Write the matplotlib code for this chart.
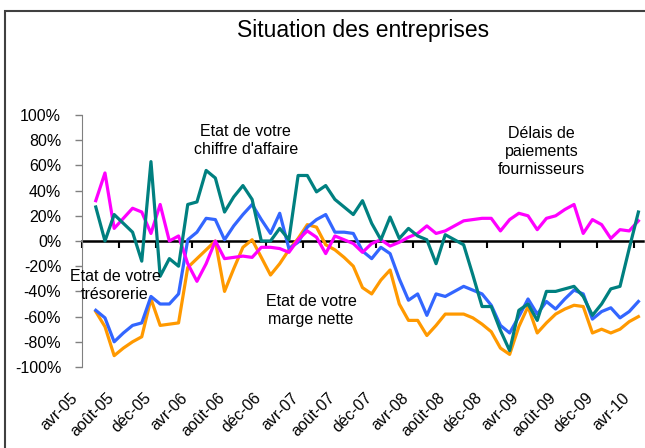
import numpy as np
import matplotlib
matplotlib.use("Agg")
import matplotlib.pyplot as plt
from matplotlib.patches import Rectangle
from matplotlib.transforms import offset_copy
from matplotlib.ticker import FuncFormatter

plt.rcParams['font.family'] = ['Liberation Sans', 'DejaVu Sans']

# catégories mensuelles, avr-05 .. avr-10 (avr-05 sans valeur)
noms_mois = ["janv", "févr", "mars", "avr", "mai", "juin",
             "juil", "août", "sept", "oct", "nov", "déc"]
mois = [f"{m}-{a:02d}" for a in range(5, 11) for m in noms_mois]
mois = mois[3:3 + 61]

tick_labels = ["avr-05", "août-05", "déc-05", "avr-06", "août-06", "déc-06",
               "avr-07", "août-07", "déc-07", "avr-08", "août-08", "déc-08",
               "avr-09", "août-09", "déc-09", "avr-10"]

# séries (%), de mai-05 à avr-10
chiffre_affaire = [27, 0, 21, 14, 7, -16, 63, -28, -14, -20,
                   29, 31, 56, 50, 23, 35, 44, 33, 0, 0,
                   10, 1, 52, 52, 39, 44, 33, 27, 21, 32,
                   14, 1, 19, 2, 10, 4, 1, -18, 5, 1,
                   -3, -27, -52, -52, -71, -87, -55, -50, -63, -40,
                   -40, -38, -36, -44, -59, -50, -38, -36, -6, 23]
tresorerie = [-55, -61, -80, -73, -67, -65, -44, -50, -50, -42,
              1, 7, 18, 17, 1, 12, 21, 29, 17, 6,
              22, -6, -1, 11, 17, 21, 7, 7, 6, -8,
              -14, -5, -10, -30, -47, -42, -59, -42, -44, -40,
              -36, -39, -42, -51, -67, -73, -60, -46, -58, -48,
              -54, -46, -39, -42, -62, -56, -53, -61, -56, -48]
marge_nette = [-56, -68, -91, -85, -80, -76, -46, -67, -66, -65,
               -21, -14, -7, 0, -40, -22, -5, 1, -13, -27,
               -18, -7, 2, 13, 11, -3, -7, -13, -20, -37,
               -42, -31, -23, -50, -63, -63, -75, -67, -58, -58,
               -58, -61, -66, -72, -85, -90, -68, -52, -73, -65,
               -58, -54, -51, -52, -73, -70, -73, -70, -64, -60]
delais_paiement = [32, 54, 10, 18, 26, 23, 6, 29, 0, 4,
                   -18, -32, -18, 0, -14, -13, -12, -13, -5, -5,
                   -6, -9, 1, 8, 3, -10, 4, 1, -2, -9,
                   -2, 1, -4, -1, 3, 6, 12, 6, 8, 12,
                   16, 17, 18, 18, 8, 17, 22, 20, 9, 18,
                   20, 25, 29, 6, 17, 13, 2, 9, 8, 16]

fig = plt.figure(figsize=(6.45, 4.48), dpi=100)
ax = fig.add_axes([0.1271, 0.1808, 0.8698, 0.5625])

x = np.arange(1, len(mois))
ax.plot(x, marge_nette, color='#FF9900', lw=2.3)
ax.plot(x, tresorerie, color='#3366FF', lw=2.3)
ax.plot(x, delais_paiement, color='#FF00FF', lw=2.3)
ax.plot(x, chiffre_affaire, color='#008080', lw=2.3)

ax.set_xlim(-0.5, len(mois) - 0.5)
ax.set_ylim(-100, 100)
ax.set_yticks(range(-100, 101, 20))
ax.yaxis.set_major_formatter(FuncFormatter(lambda v, p: f"{v:.0f}%"))
ax.tick_params(axis='y', direction='out', length=5, width=1,
               color='#808080', pad=10, labelsize=11.5)

# axe des catégories sur la ligne 0
ax.spines['bottom'].set_position(('data', 0))
ax.spines['bottom'].set_linewidth(1.8)
ax.spines['bottom'].set_zorder(1)
ax.spines['top'].set_visible(False)
ax.spines['right'].set_visible(False)
ax.spines['left'].set_color('#808080')
ax.set_xticks(np.arange(-0.5, len(mois) - 1, 4))
ax.tick_params(axis='x', direction='out', length=5, width=1.5, labelbottom=False)

trans = offset_copy(ax.get_xaxis_transform(), fig=fig, x=-6, y=-23, units='dots')
for lab in tick_labels:
    ax.text(mois.index(lab), 0, lab, transform=trans, rotation=45,
            ha='right', va='top', fontsize=11.5)

ax.text(17.3, 80, "Etat de votre\nchiffre d'affaire", ha='center', va='center',
        fontsize=11.5, linespacing=1.25)
ax.text(49.5, 71, "Délais de\npaiements\nfournisseurs", ha='center', va='center',
        fontsize=11.5, linespacing=1.25)
ax.text(3.1, -35, "Etat de votre\ntrésorerie", ha='center', va='center',
        fontsize=11.5, linespacing=1.25)
ax.text(24.4, -55.5, "Etat de votre\nmarge nette", ha='center', va='center',
        fontsize=11.5, linespacing=1.25)

fig.text(0.563, 0.933, "Situation des entreprises", ha='center', va='center',
         fontsize=16.5)

fig.add_artist(Rectangle((5 / 645, -0.5), 2, 0.5 + 1 - 11 / 448,
                         transform=fig.transFigure, fill=False,
                         ec='#404040', lw=1.5, clip_on=False))

fig.savefig("out.png", dpi=100)
